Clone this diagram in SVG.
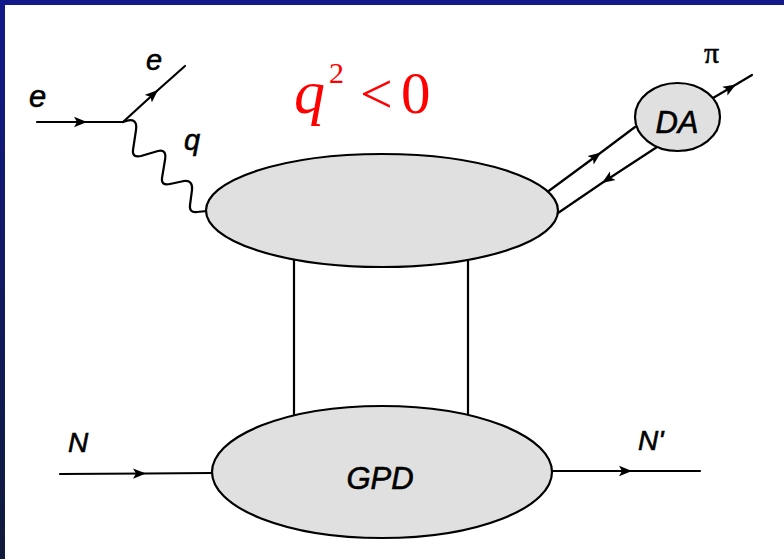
<svg xmlns="http://www.w3.org/2000/svg" width="784" height="559" viewBox="0 0 784 559">
<defs>
<linearGradient id="lb" x1="0" y1="0" x2="0" y2="1">
<stop offset="0" stop-color="#14198a"/>
<stop offset="1" stop-color="#101b3a"/>
</linearGradient>
<marker id="arr" markerWidth="16" markerHeight="12" refX="13" refY="6" orient="auto" markerUnits="userSpaceOnUse">
<path d="M0,0.8 L13,6 L0,11.2 L3,6 z" fill="#000"/>
</marker>
</defs>
<style>
.ln{fill:none;stroke:#000;stroke-width:2.2;stroke-linecap:round;stroke-linejoin:round}
.ar{marker-mid:url(#arr)}
.bl{fill:#e0e0e0;stroke:#000;stroke-width:2.2}
.lb{font-family:"Liberation Sans",Arial,sans-serif;font-style:italic;fill:#000;stroke:#000;stroke-width:0.6}
.sr{font-family:"Liberation Serif","Times New Roman",serif;fill:#000;stroke:#000;stroke-width:0.5}
.rd{font-family:"Liberation Serif","Times New Roman",serif;fill:#ff0000}
</style>
<rect x="0" y="0" width="784" height="559" fill="#ffffff"/>
<rect x="0" y="0" width="784" height="5" fill="#14198a"/>
<rect x="0" y="0" width="5" height="559" fill="url(#lb)"/>

<g id="connectors">
<path class="ln ar" d="M37,122 L87,122 L123,122"/>
<path class="ln ar" d="M123,122 L158,90 L185,66"/>
<path class="ln" d="M123,122 Q138,116 136,130 L133,150 Q132,158 141,156 L158,151 Q167,149 165,160 L162,178 Q161,186 170,184 L184,181 Q193,180 192,190 L190,205 Q189,213 197,212 L207,211"/>
<path class="ln ar" d="M548,191.5 L601,152.5 L635,127"/>
<path class="ln ar" d="M657,147 L602,183 L558,213"/>
<path class="ln ar" d="M713,98 L736,84.5 L752,75"/>
<path class="ln" d="M294,257 L294,415.5"/>
<path class="ln" d="M468,259 L468,414"/>
<path class="ln ar" d="M60,474 L146,473.5 L212,473"/>
<path class="ln ar" d="M552,471 L632,471 L700,471"/>
</g>

<g id="node-hard">
<ellipse class="bl" cx="382" cy="210.5" rx="176" ry="56.5"/>
</g>
<g id="node-da">
<ellipse class="bl" cx="677.5" cy="117" rx="42.5" ry="34"/>
<text class="lb" x="677" y="133" font-size="31" text-anchor="middle">DA</text>
</g>
<g id="node-gpd">
<ellipse class="bl" cx="382" cy="472" rx="170" ry="66"/>
<text class="lb" x="380" y="489" font-size="31" text-anchor="middle">GPD</text>
</g>

<g id="labels">
<text class="lb" x="29" y="107" font-size="31">e</text>
<text class="lb" x="146" y="70" font-size="29">e</text>
<text class="lb" x="184" y="150" font-size="29">q</text>
<text class="sr" x="704" y="63" font-size="30">π</text>
<text class="lb" x="68" y="452" font-size="28">N</text>
<text class="lb" x="638" y="450" font-size="28">N'</text>
<text class="rd" x="294" y="113" font-size="62" font-style="italic">q</text>
<text class="rd" x="329" y="83" font-size="30">2</text>
<text class="rd" x="360" y="113" font-size="58">&lt;</text>
<text class="rd" x="401" y="113" font-size="59">0</text>
</g>
</svg>
